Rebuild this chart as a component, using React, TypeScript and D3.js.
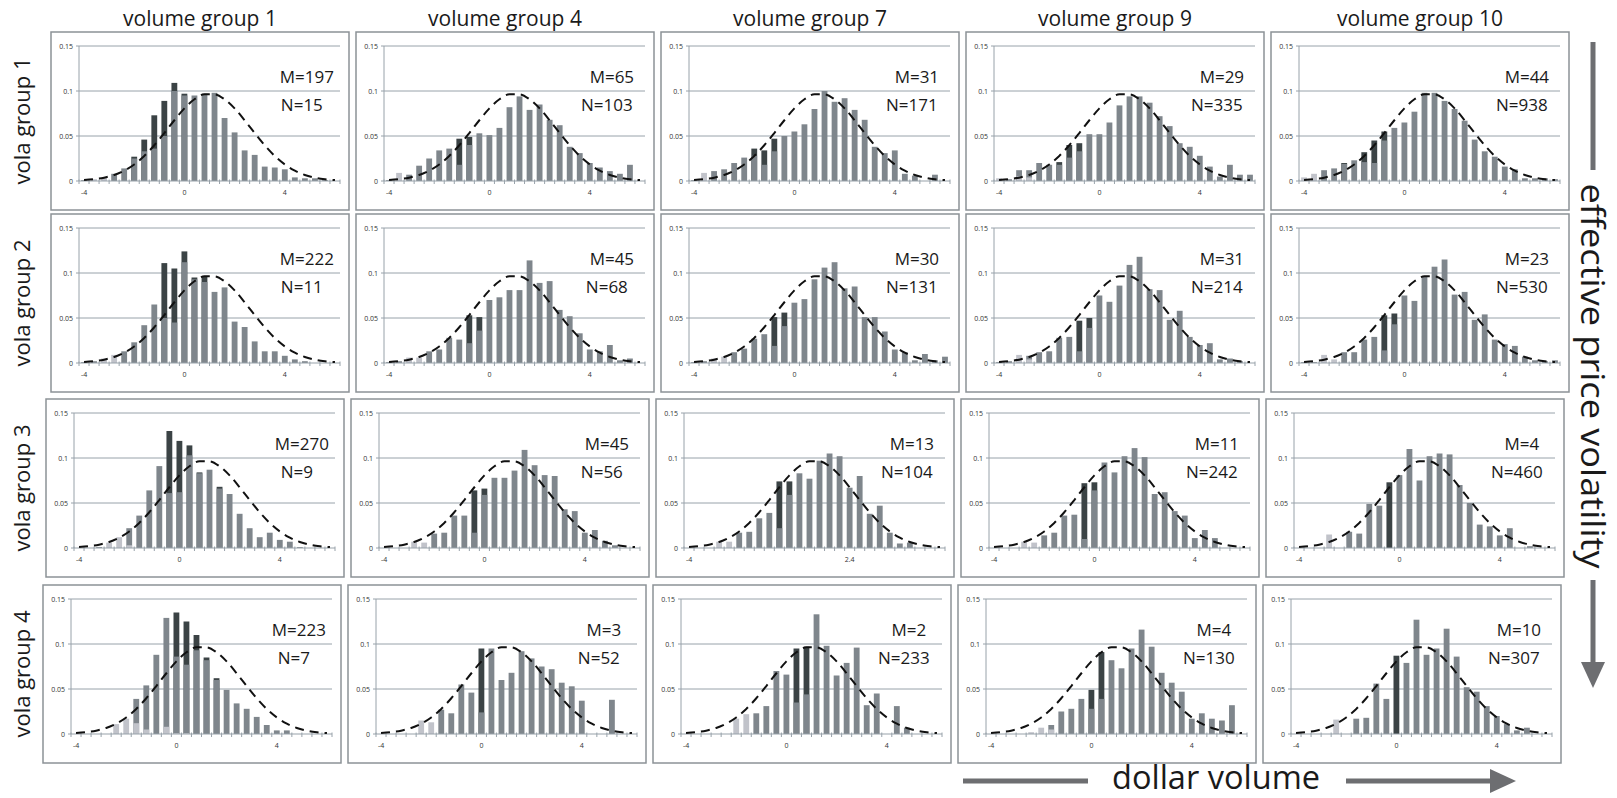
import React, {useEffect, useRef} from 'react';
import * as d3 from 'd3';

const W = 1617;
const H = 798;

// category axis: bins of the standardized return, width 0.4
const categories = ['-4', '-3.6', '-3.2', '-2.8', '-2.4', '-2', '-1.6', '-1.2', '-0.8', '-0.4',
    '0', '0.4', '0.8', '1.2', '1.6', '2', '2.4', '2.8', '3.2', '3.6',
    '4', '4.4', '4.8', '5.2', '5.6', '6'];

const volumeGroups = ['volume group 1', 'volume group 4', 'volume group 7', 'volume group 9', 'volume group 10'];
const volaGroups = ['vola group 1', 'vola group 2', 'vola group 3', 'vola group 4'];

const mValues = [
    [197, 65, 31, 29, 44],
    [222, 45, 30, 31, 23],
    [270, 45, 13, 11, 4],
    [223, 3, 2, 4, 10],
];
const nValues = [
    [15, 103, 171, 335, 938],
    [11, 68, 131, 214, 530],
    [9, 56, 104, 242, 460],
    [7, 52, 233, 130, 307],
];

// every how many categories a tick label is printed
const labelEvery = [
    [10, 10, 10, 10, 10],
    [10, 10, 10, 10, 10],
    [10, 10, 16, 10, 10],
    [10, 10, 10, 10, 10],
];

const yTicks = [0, 0.05, 0.1, 0.15];

// reference normal density (same in every panel)
const normalRef = [0.001, 0.002, 0.0037, 0.0067, 0.0115, 0.0184, 0.0278, 0.0397, 0.0533, 0.0675,
    0.0807, 0.0908, 0.0963, 0.0963, 0.0908, 0.0807, 0.0675, 0.0533, 0.0397, 0.0278,
    0.0184, 0.0115, 0.0067, 0.0037, 0.002, 0.001];

// panels in row order (vola group 1 .. 4), each row volume group 1,4,7,9,10
const midBars = [
    [0.001, 0, 0, 0.008, 0.014, 0.025, 0.033, 0.036, 0.050, 0.100, 0.095, 0.095, 0.097, 0.098, 0.070, 0.054, 0.034, 0.029, 0.016, 0.015, 0.013, 0.004, 0.003, 0.003, 0.001, 0],
    [0.001, 0, 0.007, 0.017, 0.025, 0.034, 0.036, 0.018, 0.040, 0.053, 0.051, 0.059, 0.082, 0.094, 0.079, 0.085, 0.068, 0.062, 0.038, 0.031, 0.020, 0.015, 0.011, 0.008, 0.018, 0],
    [0.001, 0, 0.011, 0.013, 0.020, 0.026, 0.028, 0.018, 0.033, 0.050, 0.055, 0.063, 0.080, 0.100, 0.088, 0.092, 0.079, 0.068, 0.038, 0.031, 0.034, 0.008, 0.006, 0, 0.007, 0],
    [0, 0.002, 0.012, 0.012, 0.020, 0.018, 0.018, 0.026, 0.033, 0.052, 0.052, 0.065, 0.084, 0.094, 0.094, 0.087, 0.072, 0.061, 0.042, 0.038, 0.028, 0.016, 0.005, 0.018, 0.007, 0.007],
    [0, 0, 0.012, 0.014, 0.019, 0.023, 0.021, 0.020, 0.045, 0.059, 0.065, 0.077, 0.098, 0.098, 0.089, 0.080, 0.067, 0.046, 0.033, 0.027, 0.016, 0.013, 0.003, 0.003, 0.003, 0.002],

    [0.001, 0.002, 0, 0, 0.013, 0.023, 0.042, 0.065, 0.050, 0.045, 0.112, 0.093, 0.090, 0.079, 0.084, 0.046, 0.040, 0.024, 0.013, 0.013, 0.008, 0.004, 0.002, 0, 0, 0],
    [0.001, 0.002, 0, 0, 0.013, 0.015, 0.028, 0.026, 0.022, 0.036, 0.070, 0.073, 0.081, 0.081, 0.114, 0.089, 0.091, 0.059, 0.052, 0.033, 0.015, 0.013, 0.020, 0.003, 0.005, 0],
    [0.001, 0.002, 0, 0, 0.012, 0.016, 0.027, 0.032, 0.019, 0.041, 0.067, 0.071, 0.093, 0.106, 0.112, 0.083, 0.085, 0.051, 0.051, 0.035, 0.015, 0.012, 0.003, 0.010, 0.003, 0.007],
    [0.001, 0.002, 0, 0.008, 0.012, 0.013, 0.028, 0.029, 0.013, 0.039, 0.075, 0.068, 0.086, 0.109, 0.118, 0.082, 0.081, 0.048, 0.058, 0.029, 0.020, 0.022, 0.004, 0.005, 0.002, 0],
    [0.001, 0.001, 0, 0, 0.012, 0.012, 0.026, 0.029, 0.014, 0.043, 0.075, 0.069, 0.096, 0.107, 0.115, 0.076, 0.079, 0.048, 0.054, 0.026, 0.021, 0.019, 0.007, 0.003, 0.002, 0.003],

    [0, 0, 0.001, 0, 0, 0.022, 0.036, 0.064, 0.091, 0.061, 0.062, 0.103, 0.083, 0.087, 0.066, 0.060, 0.038, 0.022, 0.012, 0.017, 0.009, 0.007, 0.001, 0, 0, 0],
    [0, 0, 0, 0, 0, 0.016, 0.017, 0.036, 0.036, 0.017, 0.059, 0.078, 0.078, 0.086, 0.109, 0.092, 0.081, 0.080, 0.043, 0.041, 0.017, 0.020, 0.008, 0.003, 0, 0],
    [0, 0, 0, 0, 0, 0.017, 0.018, 0.033, 0.039, 0.022, 0.059, 0.083, 0.077, 0.097, 0.105, 0.102, 0.067, 0.080, 0.038, 0.047, 0.017, 0.005, 0.006, 0, 0, 0],
    [0, 0, 0, 0, 0, 0.014, 0.017, 0.036, 0.037, 0.010, 0.064, 0.095, 0.084, 0.102, 0.111, 0.101, 0.060, 0.062, 0.041, 0.036, 0.011, 0.020, 0.011, 0, 0, 0],
    [0, 0, 0, 0, 0, 0.018, 0.016, 0.049, 0.047, 0, 0.081, 0.110, 0.075, 0.102, 0.105, 0.104, 0.070, 0.050, 0.026, 0.024, 0.014, 0.022, 0, 0.002, 0, 0],

    [0, 0, 0, 0, 0, 0, 0.039, 0.054, 0.088, 0.129, 0.086, 0.077, 0.093, 0.082, 0.060, 0.049, 0.034, 0.028, 0.019, 0.010, 0.004, 0.004, 0, 0, 0, 0],
    [0, 0, 0, 0, 0, 0, 0.027, 0.023, 0.055, 0.046, 0.024, 0.095, 0.060, 0.068, 0.092, 0.084, 0.075, 0.072, 0.057, 0.053, 0.037, 0, 0, 0.038, 0, 0],
    [0, 0, 0, 0, 0, 0, 0, 0.023, 0.031, 0.070, 0.066, 0.035, 0.044, 0.133, 0.098, 0.065, 0.079, 0.096, 0.032, 0.045, 0, 0.031, 0.007, 0, 0, 0],
    [0, 0, 0, 0, 0, 0, 0.010, 0.025, 0.028, 0.039, 0.028, 0.039, 0.082, 0.073, 0.095, 0.116, 0.097, 0.068, 0.057, 0.047, 0.017, 0.023, 0.017, 0.015, 0.032, 0],
    [0, 0, 0, 0, 0, 0, 0.017, 0.018, 0.056, 0.039, 0, 0.079, 0.127, 0.088, 0.095, 0.117, 0.086, 0.052, 0.047, 0.031, 0.020, 0.011, 0.004, 0.007, 0, 0],
];

const darkBars = [
    [0, 0, 0, 0, 0, 0.027, 0.046, 0.073, 0.089, 0.109, 0.097, 0, 0, 0, 0, 0, 0, 0, 0, 0, 0, 0, 0, 0, 0, 0],
    [0, 0, 0, 0, 0, 0, 0, 0.047, 0.049, 0, 0, 0, 0, 0, 0, 0, 0, 0, 0, 0, 0, 0, 0, 0, 0, 0],
    [0, 0, 0, 0, 0, 0, 0.036, 0.034, 0.047, 0, 0, 0, 0, 0, 0, 0, 0, 0, 0, 0, 0, 0, 0, 0, 0, 0],
    [0, 0, 0, 0, 0, 0, 0.021, 0.040, 0.042, 0, 0, 0, 0, 0, 0, 0, 0, 0, 0, 0, 0, 0, 0, 0, 0, 0],
    [0, 0, 0, 0, 0.020, 0, 0.032, 0.045, 0.055, 0, 0, 0, 0, 0, 0, 0, 0, 0, 0, 0, 0, 0, 0, 0, 0, 0],

    [0, 0, 0, 0, 0, 0, 0, 0, 0.111, 0.105, 0.124, 0.095, 0.096, 0, 0, 0, 0, 0, 0, 0, 0, 0, 0, 0, 0, 0],
    [0, 0, 0, 0, 0, 0, 0, 0, 0.053, 0.051, 0, 0, 0, 0, 0, 0, 0, 0, 0, 0, 0, 0, 0, 0, 0, 0],
    [0, 0, 0, 0, 0, 0, 0, 0, 0.051, 0.056, 0, 0, 0, 0, 0, 0, 0, 0, 0, 0, 0, 0, 0, 0, 0, 0],
    [0, 0, 0, 0, 0, 0, 0, 0, 0.047, 0.050, 0, 0, 0, 0, 0, 0, 0, 0, 0, 0, 0, 0, 0, 0, 0, 0],
    [0, 0, 0, 0, 0, 0, 0, 0, 0.053, 0.055, 0, 0, 0, 0, 0, 0, 0, 0, 0, 0, 0, 0, 0, 0, 0, 0],

    [0, 0, 0, 0, 0, 0, 0, 0, 0, 0.130, 0.119, 0.114, 0.084, 0, 0.068, 0, 0, 0, 0, 0, 0, 0, 0, 0, 0, 0],
    [0, 0, 0, 0, 0, 0, 0, 0, 0, 0.064, 0.066, 0, 0, 0, 0, 0, 0, 0, 0, 0, 0, 0, 0, 0, 0, 0],
    [0, 0, 0, 0, 0, 0, 0, 0, 0, 0.074, 0.074, 0, 0, 0, 0, 0, 0, 0, 0, 0, 0, 0, 0, 0, 0, 0],
    [0, 0, 0, 0, 0, 0, 0, 0, 0, 0.072, 0.073, 0, 0, 0, 0, 0, 0, 0, 0, 0, 0, 0, 0, 0, 0, 0],
    [0, 0, 0, 0, 0, 0, 0, 0, 0, 0.073, 0, 0, 0, 0, 0, 0, 0, 0, 0, 0, 0, 0, 0, 0, 0, 0],

    [0, 0, 0, 0, 0, 0, 0, 0, 0, 0, 0.135, 0.125, 0.110, 0.085, 0.062, 0, 0, 0, 0, 0, 0, 0, 0, 0, 0, 0],
    [0, 0, 0, 0, 0, 0, 0, 0, 0, 0, 0.095, 0, 0, 0, 0, 0, 0, 0, 0, 0, 0, 0, 0, 0, 0, 0],
    [0, 0, 0, 0, 0, 0, 0, 0, 0, 0, 0, 0.095, 0.097, 0, 0, 0, 0, 0, 0, 0, 0, 0, 0, 0, 0, 0],
    [0, 0, 0, 0, 0, 0, 0, 0, 0, 0, 0.049, 0.091, 0, 0, 0, 0, 0, 0, 0, 0, 0, 0, 0, 0, 0, 0],
    [0, 0, 0, 0, 0, 0, 0, 0, 0, 0, 0.087, 0, 0, 0, 0, 0, 0, 0, 0, 0, 0, 0, 0, 0, 0, 0],
];

const lightBars = [
    [0, 0.002, 0.004, 0, 0, 0, 0, 0, 0, 0, 0, 0, 0, 0, 0, 0, 0, 0, 0, 0, 0, 0, 0, 0, 0, 0],
    [0, 0.009, 0, 0, 0, 0, 0, 0, 0, 0, 0, 0, 0, 0, 0, 0, 0, 0, 0, 0, 0, 0, 0, 0, 0, 0],
    [0, 0.009, 0, 0, 0, 0, 0, 0, 0, 0, 0, 0, 0, 0, 0, 0, 0, 0, 0, 0, 0, 0, 0, 0, 0, 0],
    [0.003, 0, 0.005, 0.004, 0, 0, 0, 0, 0, 0, 0, 0, 0, 0, 0, 0, 0, 0, 0, 0, 0, 0, 0, 0, 0, 0],
    [0.004, 0.008, 0, 0, 0, 0, 0, 0, 0, 0, 0, 0, 0, 0, 0, 0, 0, 0, 0, 0, 0, 0, 0, 0, 0, 0],

    [0, 0, 0.005, 0.009, 0, 0, 0, 0, 0, 0, 0, 0, 0, 0, 0, 0, 0, 0, 0, 0, 0, 0, 0, 0, 0, 0],
    [0, 0, 0.006, 0.006, 0, 0, 0, 0, 0, 0, 0, 0, 0, 0, 0, 0, 0, 0, 0, 0, 0, 0, 0, 0, 0, 0],
    [0, 0, 0.005, 0.007, 0, 0, 0, 0, 0, 0, 0, 0, 0, 0, 0, 0, 0, 0, 0, 0, 0, 0, 0, 0, 0, 0],
    [0, 0, 0.009, 0.004, 0, 0, 0, 0, 0, 0, 0, 0, 0, 0, 0, 0, 0, 0, 0, 0, 0, 0, 0, 0, 0, 0],
    [0, 0, 0.009, 0.004, 0, 0, 0, 0, 0, 0, 0, 0, 0, 0, 0, 0, 0, 0, 0, 0, 0, 0, 0, 0, 0, 0],

    [0, 0, 0, 0.006, 0.012, 0.003, 0, 0, 0, 0, 0, 0, 0, 0, 0, 0, 0, 0, 0, 0, 0, 0, 0, 0, 0, 0],
    [0, 0, 0, 0.007, 0.006, 0, 0, 0, 0, 0, 0, 0, 0, 0, 0, 0, 0, 0, 0, 0, 0, 0, 0, 0, 0, 0],
    [0, 0, 0, 0.007, 0.007, 0, 0, 0, 0, 0, 0, 0, 0, 0, 0, 0, 0, 0, 0, 0, 0, 0, 0, 0, 0, 0],
    [0, 0, 0, 0.007, 0.006, 0, 0, 0, 0, 0, 0, 0, 0, 0, 0, 0, 0, 0, 0, 0, 0, 0, 0, 0, 0, 0],
    [0, 0, 0, 0.015, 0, 0, 0, 0, 0, 0, 0, 0, 0, 0, 0, 0, 0, 0, 0, 0, 0, 0, 0, 0, 0, 0],

    [0, 0, 0, 0, 0.011, 0.017, 0.012, 0.005, 0, 0.008, 0.001, 0.001, 0, 0, 0, 0, 0, 0, 0, 0, 0, 0, 0, 0, 0, 0],
    [0, 0, 0, 0, 0.015, 0.013, 0, 0, 0, 0, 0, 0, 0, 0, 0, 0, 0, 0, 0, 0, 0, 0, 0, 0, 0, 0],
    [0, 0, 0, 0, 0, 0.017, 0.022, 0, 0, 0, 0, 0, 0, 0, 0, 0, 0, 0, 0, 0, 0, 0, 0, 0, 0, 0],
    [0, 0, 0, 0, 0.002, 0.007, 0.005, 0, 0, 0, 0, 0, 0, 0, 0, 0, 0, 0, 0, 0, 0, 0, 0, 0, 0, 0],
    [0, 0, 0, 0, 0.016, 0, 0, 0, 0, 0, 0, 0, 0, 0, 0, 0, 0, 0, 0, 0, 0, 0, 0, 0, 0, 0],
];

// layout
const colX = [51, 356, 661, 966, 1271];
const rowY = [32, 214, 399, 585];
const rowDx = [0, 0, -5, -8];
const panelW = 298;
const panelH = 178;
const plotL = 28;
const plotR = 9;
const plotT = 14;
const plotB = 149;

const FONT = '"Open Sans", "Noto Sans", sans-serif';
const C_MID = '#7f868c';
const C_DARK = '#3b4345';
const C_LIGHT = '#c1c3ca';
const C_GRID = '#98a2aa';
const C_FRAME = '#8c9297';
const C_ARROW = '#6d6e71';

const App: React.FC = () => {
    const svgRef = useRef<SVGSVGElement>(null);

    useEffect(() => {
        if (!svgRef.current) return;
        const svg = d3.select(svgRef.current);
        svg.selectAll('*').remove();

        svg.append('rect').attr('width', W).attr('height', H).attr('fill', '#fff');

        const x = d3.scaleBand<string>()
            .domain(categories)
            .range([plotL, panelW - plotR])
            .paddingInner(0.42)
            .paddingOuter(0.21);
        const step = x.step();
        const y = d3.scaleLinear().domain([0, 0.15]).range([plotB, plotT]);
        const cx = (i: number) => (x(categories[i]) as number) + x.bandwidth() / 2;
        const xAt = (k: number) => plotL + step * (k + 0.5);

        const line = d3.line<number>()
            .x((_, i) => cx(i))
            .y(d => y(d))
            .curve(d3.curveMonotoneX);

        // column titles
        volumeGroups.forEach((t, c) => {
            svg.append('text')
                .attr('x', colX[c] + panelW / 2)
                .attr('y', 26)
                .attr('text-anchor', 'middle')
                .style('font-family', FONT)
                .style('font-size', '21px')
                .style('fill', '#1a1a1a')
                .text(t);
        });

        // row titles
        volaGroups.forEach((t, r) => {
            const cy = rowY[r] + panelH / 2;
            svg.append('text')
                .attr('transform', `translate(30, ${cy}) rotate(-90)`)
                .attr('text-anchor', 'middle')
                .style('font-family', FONT)
                .style('font-size', '22px')
                .style('fill', '#1a1a1a')
                .text(t);
        });

        for (let r = 0; r < 4; r++) {
            for (let c = 0; c < 5; c++) {
                const p = r * 5 + c;
                const g = svg.append('g')
                    .attr('transform', `translate(${colX[c] + rowDx[r]}, ${rowY[r]})`);

                g.append('rect')
                    .attr('x', 0).attr('y', 0)
                    .attr('width', panelW).attr('height', panelH)
                    .attr('fill', '#fff')
                    .attr('stroke', C_FRAME)
                    .attr('stroke-width', 1.5);

                // gridlines
                yTicks.filter(v => v > 0).forEach(v => {
                    g.append('line')
                        .attr('x1', plotL).attr('x2', panelW - plotR)
                        .attr('y1', y(v)).attr('y2', y(v))
                        .attr('stroke', C_GRID).attr('stroke-width', 1);
                });

                // y axis
                g.append('line')
                    .attr('x1', plotL).attr('x2', plotL)
                    .attr('y1', y(0)).attr('y2', y(0.15))
                    .attr('stroke', C_GRID).attr('stroke-width', 1);
                yTicks.forEach(v => {
                    g.append('line')
                        .attr('x1', plotL - 3).attr('x2', plotL)
                        .attr('y1', y(v)).attr('y2', y(v))
                        .attr('stroke', C_GRID);
                    g.append('text')
                        .attr('x', plotL - 6)
                        .attr('y', y(v) + 2.5)
                        .attr('text-anchor', 'end')
                        .style('font-family', FONT)
                        .style('font-size', '7px')
                        .style('fill', '#333')
                        .text(String(v));
                });

                // bars: dark behind, mid, light in front
                const layers: [number[], string][] = [
                    [darkBars[p], C_DARK],
                    [midBars[p], C_MID],
                    [lightBars[p], C_LIGHT],
                ];
                layers.forEach(([vals, color]) => {
                    g.selectAll(null)
                        .data(vals.map((v, i) => ({v, i})).filter(d => d.v > 0))
                        .enter()
                        .append('rect')
                        .attr('x', d => x(categories[d.i]) as number)
                        .attr('y', d => y(d.v))
                        .attr('width', x.bandwidth())
                        .attr('height', d => y(0) - y(d.v))
                        .attr('fill', color);
                });

                // x axis
                g.append('line')
                    .attr('x1', plotL).attr('x2', panelW - plotR)
                    .attr('y1', y(0)).attr('y2', y(0))
                    .attr('stroke', C_GRID).attr('stroke-width', 1.2);
                for (let i = 0; i <= categories.length; i++) {
                    const tx = plotL + step * i;
                    g.append('line')
                        .attr('x1', tx).attr('x2', tx)
                        .attr('y1', y(0) - 1.5).attr('y2', y(0) + 3)
                        .attr('stroke', C_GRID);
                }
                categories.forEach((cat, i) => {
                    if (i % labelEvery[r][c] !== 0) return;
                    g.append('text')
                        .attr('x', cx(i))
                        .attr('y', y(0) + 14)
                        .attr('text-anchor', 'middle')
                        .style('font-family', FONT)
                        .style('font-size', '7px')
                        .style('fill', '#333')
                        .text(cat);
                });

                // reference normal curve
                g.append('path')
                    .datum(normalRef)
                    .attr('d', line)
                    .attr('fill', 'none')
                    .attr('stroke', '#111')
                    .attr('stroke-width', 2)
                    .attr('stroke-dasharray', '9,6');

                // M / N annotations
                g.append('text')
                    .attr('x', xAt(22.2))
                    .attr('y', y(0.116) + 6)
                    .attr('text-anchor', 'middle')
                    .style('font-family', FONT)
                    .style('font-size', '17px')
                    .style('fill', '#1a1a1a')
                    .text(`M=${mValues[r][c]}`);
                g.append('text')
                    .attr('x', xAt(21.7))
                    .attr('y', y(0.084) + 6)
                    .attr('text-anchor', 'middle')
                    .style('font-family', FONT)
                    .style('font-size', '17px')
                    .style('fill', '#1a1a1a')
                    .text(`N=${nValues[r][c]}`);
            }
        }

        // right side: effective price volatility
        svg.append('line')
            .attr('x1', 1593).attr('x2', 1593)
            .attr('y1', 42).attr('y2', 170)
            .attr('stroke', C_ARROW).attr('stroke-width', 5);
        svg.append('text')
            .attr('transform', 'translate(1581, 376) rotate(90)')
            .attr('text-anchor', 'middle')
            .attr('textLength', 385)
            .attr('lengthAdjust', 'spacingAndGlyphs')
            .style('font-family', FONT)
            .style('font-size', '33px')
            .style('fill', '#1a1a1a')
            .text('effective price volatility');
        svg.append('line')
            .attr('x1', 1593).attr('x2', 1593)
            .attr('y1', 580).attr('y2', 665)
            .attr('stroke', C_ARROW).attr('stroke-width', 5);
        svg.append('path')
            .attr('d', 'M1581,662 L1605,662 L1593,688 Z')
            .attr('fill', C_ARROW);

        // bottom: dollar volume
        svg.append('line')
            .attr('x1', 963).attr('x2', 1088)
            .attr('y1', 781).attr('y2', 781)
            .attr('stroke', C_ARROW).attr('stroke-width', 5);
        svg.append('text')
            .attr('x', 1216)
            .attr('y', 789)
            .attr('text-anchor', 'middle')
            .attr('textLength', 208)
            .attr('lengthAdjust', 'spacingAndGlyphs')
            .style('font-family', FONT)
            .style('font-size', '32px')
            .style('fill', '#1a1a1a')
            .text('dollar volume');
        svg.append('line')
            .attr('x1', 1346).attr('x2', 1494)
            .attr('y1', 781).attr('y2', 781)
            .attr('stroke', C_ARROW).attr('stroke-width', 5);
        svg.append('path')
            .attr('d', 'M1490,769 L1490,793 L1516,781 Z')
            .attr('fill', C_ARROW);
    }, []);

    return (
        <svg
            ref={svgRef}
            width={W}
            height={H}
            viewBox={`0 0 ${W} ${H}`}
            style={{position: 'absolute', left: 0, top: 0, display: 'block'}}
        />
    );
};

export default App;
